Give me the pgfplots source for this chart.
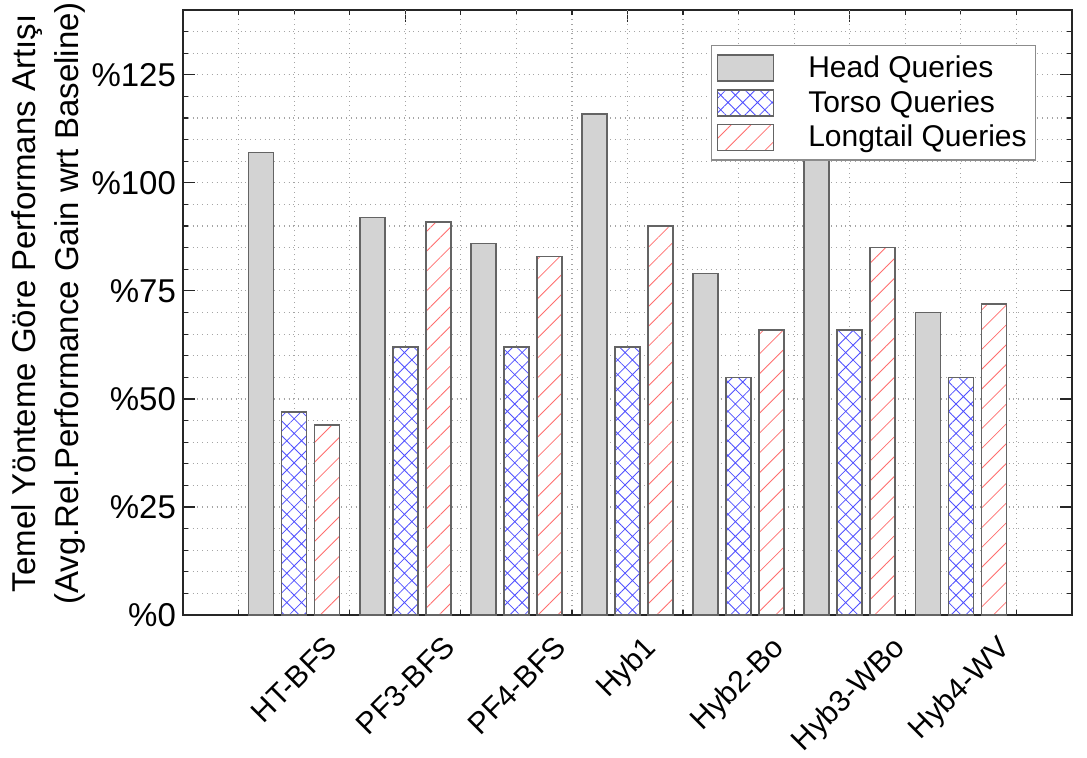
\documentclass[border=0pt]{standalone}
\usepackage{fontspec}
\setmainfont{Liberation Sans}
\usepackage{graphicx}
\usepackage{pgfplots}
\usepackage{pgfplotstable}
\pgfplotsset{compat=1.18}
\usetikzlibrary{patterns.meta}

\definecolor{barEdge}{RGB}{100,100,100}
\definecolor{headGray}{RGB}{211,211,211}
\definecolor{torsoBlue}{RGB}{80,80,255}
\definecolor{tailRed}{RGB}{255,110,110}
\definecolor{gridGray}{RGB}{165,165,165}

% grid below the bars, ticks above them
\pgfplotsset{layers/grid under/.define layer set={axis background,axis grid,main,axis ticks,axis lines,axis tick labels,axis descriptions,axis foreground}{}}

\pgfplotstableread{
x head torso tail
1 107 47 44
2 92 62 91
3 86 62 83
4 116 62 90
5 79 55 66
6 107 66 85
7 70 55 72
}\gaindata

\begin{document}
\begin{tikzpicture}
\begin{axis}[
    set layers=grid under,
    scale only axis,
    width=444.5pt, height=302.5pt,
    xmin=0, xmax=8, ymin=0, ymax=140,
    xtick={0,2,4,6,8}, xticklabels={},
    minor xtick={0.5,1,...,7.5},
    extra x ticks={1,2,3,4,5,6,7},
    extra x tick labels={\rotatebox{45}{HT-BFS},\rotatebox{45}{PF3-BFS},\rotatebox{45}{PF4-BFS},\rotatebox{45}{Hyb1},\rotatebox{45}{Hyb2-Bo},\rotatebox{45}{Hyb3-WBo},\rotatebox{45}{Hyb4-WV}},
    extra x tick style={major tick length=0pt, xticklabel style={anchor=north, yshift=-6pt, font=\fontsize{15}{17}\selectfont}},
    ytick={0,25,50,75,100,125},
    yticklabels={\%0,\%25,\%50,\%75,\%100,\%125},
    yticklabel style={font=\fontsize{16.5}{18}\selectfont},
    minor ytick={5,10,...,140},
    major tick length=6pt, minor tick length=2.5pt,
    tick style={black!85, line width=0.6pt},
    grid=both,
    major grid style={dotted, gridGray, line width=0.6pt},
    minor grid style={dotted, gridGray, line width=0.6pt},
    axis line style={black!85, line width=0.9pt},
    ylabel={Temel Yönteme Göre Performans Artışı\\(Avg.Rel.Performance Gain wrt Baseline)},
    ylabel style={align=center, font=\fontsize{16.5}{21.5}\selectfont, at={(axis description cs:-0.151,0.515)}, anchor=center},
    legend style={at={(rel axis cs:0.594,0.942)}, anchor=north west, draw=gray!90, line width=0.6pt,
        font=\fontsize{15}{17}\selectfont, inner xsep=2.5pt, inner ysep=3pt, row sep=1pt, fill=white,
        /tikz/every odd column/.append style={column sep=15pt}},
    legend cell align=left,
    legend image code/.code={\draw[#1] (0pt,-6.5pt) rectangle (28pt,6.5pt);},
]
\addplot[ybar, bar width=12.5pt, bar shift=-16.5pt, fill=headGray, draw=barEdge, line width=0.8pt]
    table[x=x, y=head]{\gaindata};
\addlegendentry{Head Queries}
\addplot[ybar, bar width=12.5pt, bar shift=0pt, preaction={fill=white}, pattern={Hatch[angle=45,distance=5.2pt,line width=0.4pt]}, pattern color=torsoBlue, draw=barEdge, line width=0.8pt]
    table[x=x, y=torso]{\gaindata};
\addlegendentry{Torso Queries}
\addplot[ybar, bar width=12.5pt, bar shift=16.5pt, preaction={fill=white}, pattern={Lines[angle=45,distance=7pt,line width=0.4pt]}, pattern color=tailRed, draw=barEdge, line width=0.8pt]
    table[x=x, y=tail]{\gaindata};
\addlegendentry{Longtail Queries}
\end{axis}
\pgfresetboundingbox
\path[use as bounding box] (-91.5pt,-71pt) rectangle (452pt,307.5pt);
\end{tikzpicture}
\end{document}
